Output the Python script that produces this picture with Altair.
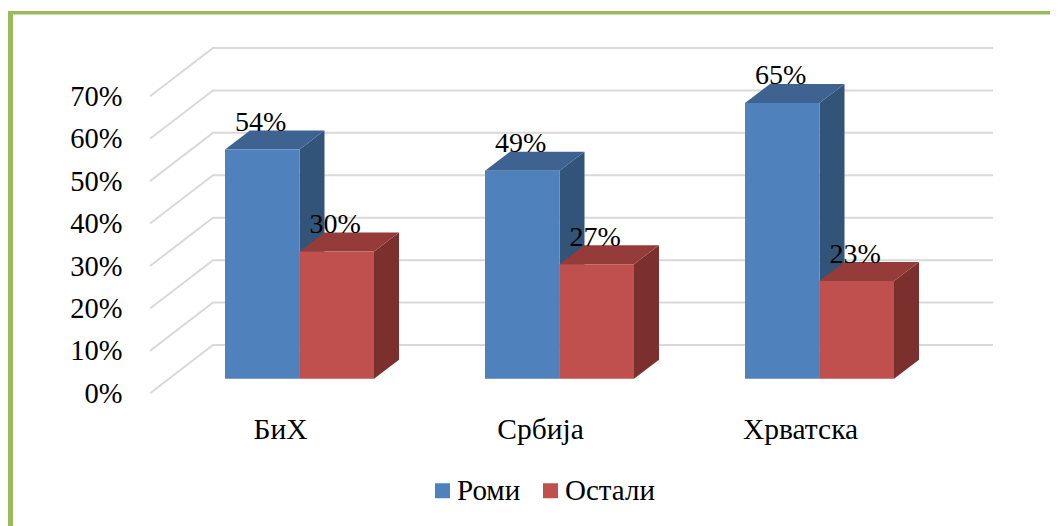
import json
import altair as alt
import pandas as pd

categories = ["БиХ", "Србија", "Хрватска"]
roma = [54, 49, 65]
others = [30, 27, 23]
series_names = ["Роми", "Остали"]
ticks = [0, 10, 20, 30, 40, 50, 60, 70]

FONT = "Liberation Serif"
W, H = 1042, 518
PX_X = 260.0            # px per category step
PX_Y = 4.243            # px per percentage point
BAR = 74.5 / PX_X       # bar width in category units
DX = 25 / PX_X          # depth of a bar
DY = 19 / PX_Y
FLOOR = 14.6 / PX_Y     # lift of the bars' front above the axis zero
WALL_X0, WALL_DX, WALL_END = -75 / PX_X, 63 / PX_X, 768 / PX_X
WALL_DY = 48.3 / PX_Y

x_scale = alt.Scale(domain=[(8 - 225) / PX_X, (8 + W - 225) / PX_X], nice=False, zero=False)
y_scale = alt.Scale(domain=[(393.3 - 8 - H) / PX_Y, (393.3 - 8) / PX_Y], nice=False, zero=False)
color_scale = alt.Scale(domain=series_names, range=["#4F81BD", "#C0504D"])
side_colors = ["#325479", "#7B302E"]
top_colors = ["#3E6391", "#953C3A"]

grid_rows = []
for t in ticks:
    grid_rows += [
        {"t": t, "u": WALL_X0, "v": t},
        {"t": t, "u": WALL_X0 + WALL_DX, "v": t + WALL_DY},
        {"t": t, "u": WALL_END, "v": t + WALL_DY},
    ]
X_AX = alt.X("u:Q", scale=x_scale, title=None)
grid = alt.Chart(pd.DataFrame(grid_rows)).mark_line(color="#D9D9D9", strokeWidth=2).encode(
    x=alt.X(
        "u:Q", scale=x_scale, title=None,
        axis=alt.Axis(
            values=[i + 55 / PX_X for i in range(len(categories))],
            labelExpr=f"{json.dumps(categories, ensure_ascii=False)}[round(datum.value - {55 / PX_X})]",
            grid=False, domain=False, ticks=False, labelFont=FONT, labelFontSize=29.5,
            labelColor="#000000", labelPadding=0, offset=-(H + 8 - 415), orient="bottom",
            labelBaseline="top", labelAlign="center", labelFlush=False, labelOverlap=False,
        ),
    ),
    y=alt.Y(
        "v:Q", scale=y_scale, title=None,
        axis=alt.Axis(
            values=ticks, labelExpr="datum.value + '%'", grid=False, domain=False, ticks=False,
            labelFont=FONT, labelFontSize=28.5, labelColor="#000000", labelPadding=0, offset=-114,
            orient="left", labelBaseline="middle", labelFlush=False, labelOverlap=False,
        ),
    ),
    detail="t:N",
)

layers = [grid]
text_rows = []
for s, (name, vals) in enumerate(zip(series_names, [roma, others])):
    front, side, top = [], [], []
    for i, (cat, val) in enumerate(zip(categories, vals)):
        x0 = i + s * BAR
        x1 = x0 + BAR
        y0 = val + FLOOR
        base = FLOOR
        front.append({"cat": cat, "series": name, "u": x0, "u2": x1, "v": y0, "v2": base})
        side += [
            {"cat": cat, "u": x1, "lo": base, "hi": y0},
            {"cat": cat, "u": x1 + DX, "lo": base + DY, "hi": y0 + DY},
        ]
        top += [
            {"cat": cat, "u": x0, "lo": y0, "hi": y0},
            {"cat": cat, "u": x0 + DX, "lo": y0, "hi": y0 + DY},
            {"cat": cat, "u": x1, "lo": y0, "hi": y0 + DY},
            {"cat": cat, "u": x1 + DX, "lo": y0 + DY, "hi": y0 + DY},
        ]
        text_rows.append({"u": (x0 + x1) / 2 - 1.5 / PX_X, "v": y0 + DY - 0.1, "label": f"{val}%"})
    for rows, col in ((side, side_colors[s]), (top, top_colors[s])):
        layers.append(
            alt.Chart(pd.DataFrame(rows)).mark_area(color=col, orient="vertical", interpolate="linear").encode(
                x=X_AX,
                y=alt.Y("lo:Q", scale=y_scale, title=None, stack=None),
                y2="hi:Q",
                detail="cat:N",
            )
        )
    layers.append(
        alt.Chart(pd.DataFrame(front)).mark_rect().encode(
            x=X_AX,
            x2="u2:Q",
            y=alt.Y("v:Q", scale=y_scale, title=None),
            y2="v2:Q",
            color=alt.Color(
                "series:N", scale=color_scale, sort=series_names, title=None,
                legend=alt.Legend(
                    orient="none", legendX=420, legendY=468, direction="horizontal",
                    symbolType="square", symbolSize=225, symbolStrokeWidth=0, symbolOpacity=1,
                    labelFont=FONT, labelFontSize=29, labelColor="#000000", labelOffset=0,
                    columnPadding=15, padding=0, title=None, labelLimit=0,
                ),
            ),
        )
    )

labels = alt.Chart(pd.DataFrame(text_rows)).mark_text(
    font=FONT, fontSize=28, color="#000000", align="center", baseline="alphabetic"
).encode(
    x=X_AX,
    y=alt.Y("v:Q", scale=y_scale, title=None),
    text="label:N",
)
layers.append(labels)

border_top = alt.Chart(pd.DataFrame({"a": [0]})).mark_rect(color="#9BBB59").encode(
    x=alt.value(0), x2=alt.value(W), y=alt.value(3), y2=alt.value(6.5)
)
border_left = alt.Chart(pd.DataFrame({"a": [0]})).mark_rect(color="#9BBB59").encode(
    x=alt.value(0), x2=alt.value(5), y=alt.value(3), y2=alt.value(H)
)
layers += [border_top, border_left]

chart = alt.layer(*layers).properties(
    width=W, height=H, background="#FFFFFF", padding=0,
    autosize=alt.AutoSizeParams(type="none"),
).configure_view(stroke=None)

chart.save("out.html", embed_options={"renderer": "svg", "actions": False})
